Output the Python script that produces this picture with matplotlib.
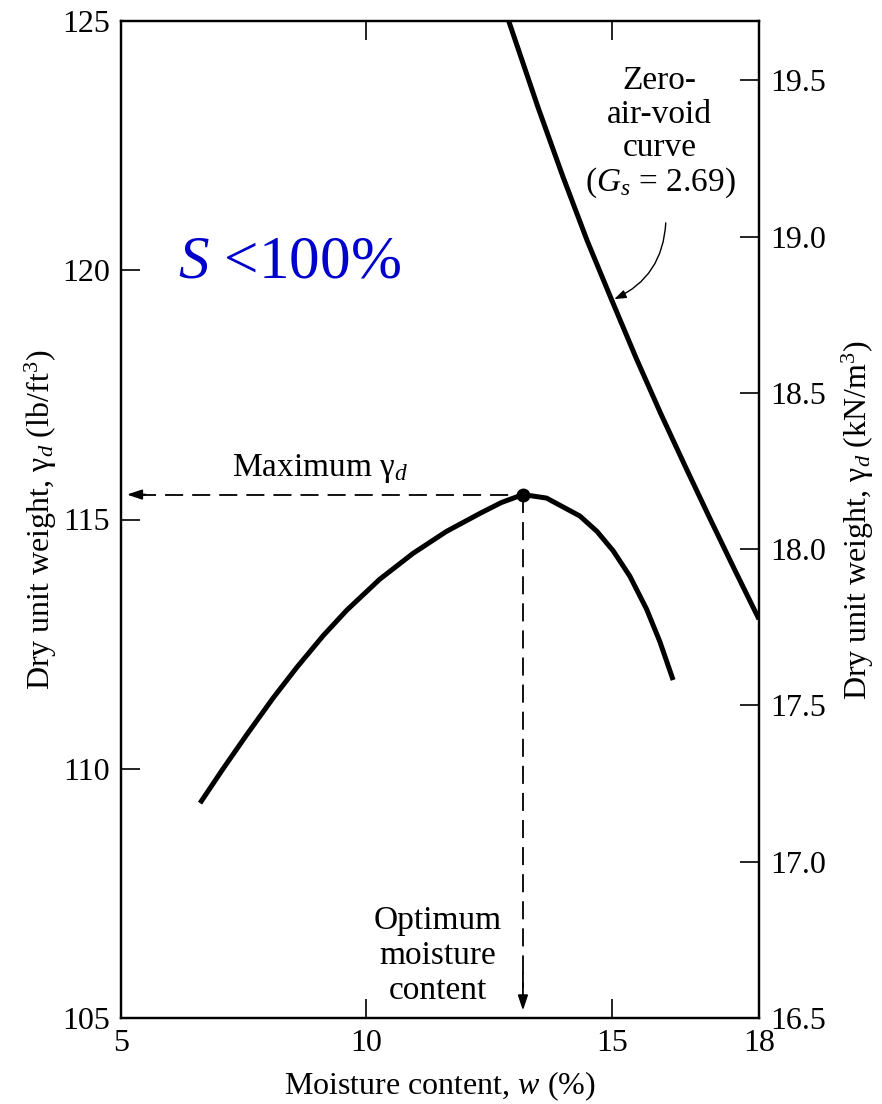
import matplotlib
matplotlib.use("Agg")
import matplotlib.pyplot as plt

plt.rcParams['font.family'] = ['Liberation Serif', 'DejaVu Serif']
plt.rcParams['mathtext.fontset'] = 'custom'
plt.rcParams['mathtext.rm'] = 'Liberation Serif'
plt.rcParams['mathtext.it'] = 'Liberation Serif:italic'

# Compaction curve (moisture %, dry unit weight lb/ft3)
comp_w = [6.61, 7.08, 7.56, 8.10, 8.58, 9.12, 9.60, 10.27, 10.95, 11.63, 12.31, 12.75, 13.19,
          13.67, 14.35, 14.70, 15.03, 15.37, 15.71, 15.98, 16.25]
comp_g = [109.31, 110.00, 110.68, 111.42, 112.03, 112.67, 113.18, 113.80, 114.32, 114.76, 115.12, 115.34, 115.50,
          115.43, 115.07, 114.76, 114.37, 113.86, 113.20, 112.55, 111.78]

# Zero-air-void curve (Gs = 2.69)
zav_w = [12.9, 13.5, 14.0, 14.5, 15.0, 15.5, 16.0, 16.5, 17.0, 17.5, 18.0]
zav_g = [125.0, 123.26, 121.89, 120.59, 119.40, 118.23, 117.12, 116.06, 115.02, 114.0, 113.0]

# Maximum point
opt_w = 13.19
max_g = 115.5

x_ticks = [5, 10, 15, 18]
y_ticks = [105, 110, 115, 120, 125]
y2_ticks = [16.5, 17.0, 17.5, 18.0, 18.5, 19.0, 19.5]

fig = plt.figure(figsize=(8.82, 11.04), dpi=100)
ax = fig.add_axes([121/882, 1-1018/1104, (759-121)/882, (1018-21)/1104])

ax.plot(comp_w, comp_g, color='black', lw=3.6, solid_capstyle='butt', solid_joinstyle='round')
ax.plot(zav_w, zav_g, color='black', lw=3.6, solid_capstyle='butt', solid_joinstyle='round')
ax.plot([opt_w], [max_g], 'o', color='black', ms=9)

dash = (0, (10, 5))
ax.plot([5.35, opt_w], [max_g, max_g], color='black', lw=1.3, linestyle=dash)
ax.plot([opt_w, opt_w], [max_g, 105.6], color='black', lw=1.3, linestyle=dash)
ax.annotate('', xy=(5.12, max_g), xytext=(5.5, max_g),
            arrowprops=dict(arrowstyle='-|>,head_length=0.9,head_width=0.3', color='black', lw=1.3,
                            shrinkA=0, shrinkB=0))
ax.annotate('', xy=(opt_w, 105.15), xytext=(opt_w, 105.9),
            arrowprops=dict(arrowstyle='-|>,head_length=0.9,head_width=0.3', color='black', lw=1.3,
                            shrinkA=0, shrinkB=0))

ax.set_xlim(5, 18)
ax.set_ylim(105, 125)
ax.set_xticks(x_ticks)
ax.set_yticks(y_ticks)
ax.tick_params(axis='both', direction='in', length=14, width=1.2, labelsize=23, pad=8)
ax.tick_params(axis='x', top=True)
for s in ax.spines.values():
    s.set_linewidth(1.6)

ax.set_xlabel('Moisture content, $\\mathit{w}$ (%)', fontsize=23, labelpad=8)
ax.set_ylabel('Dry unit weight, γ$_{\\mathit{d}}$ (lb/ft$^3$)', fontsize=23, labelpad=2)

ax2 = ax.twinx()
ax2.set_ylim(16.5, 19.69)
ax2.set_yticks(y2_ticks)
ax2.set_yticklabels([f'{v:.1f}' for v in y2_ticks])
ax2.tick_params(axis='y', direction='in', length=14, width=1.2, labelsize=23, pad=8)
ax2.set_ylabel('Dry unit weight, γ$_{\\mathit{d}}$ (kN/m$^3$)', fontsize=23, labelpad=10)
for s in ax2.spines.values():
    s.set_linewidth(1.6)

ax.text(6.16, 120.15, '$\\mathit{S}$ <100%', color='#0000CC', fontsize=44, ha='left', va='center')
ax.text(9.05, 115.7, 'Maximum γ$_{\\mathit{d}}$', fontsize=24, ha='center', va='bottom')
ax.text(15.98, 122.75, 'Zero-\nair-void\ncurve\n($\\mathit{G}_{\\mathit{s}}$ = 2.69)', fontsize=24,
        ha='center', va='center', linespacing=1.12)
ax.text(11.45, 106.25, 'Optimum\nmoisture\ncontent', fontsize=24, ha='center', va='center',
        linespacing=1.2)

ax.annotate('', xy=(15.05, 119.42), xytext=(16.1, 120.95),
            arrowprops=dict(arrowstyle='-|>,head_length=0.7,head_width=0.25', color='black', lw=1.0,
                            connectionstyle='arc3,rad=-0.3', shrinkA=0, shrinkB=0))

fig.savefig('out.png', dpi=100)
